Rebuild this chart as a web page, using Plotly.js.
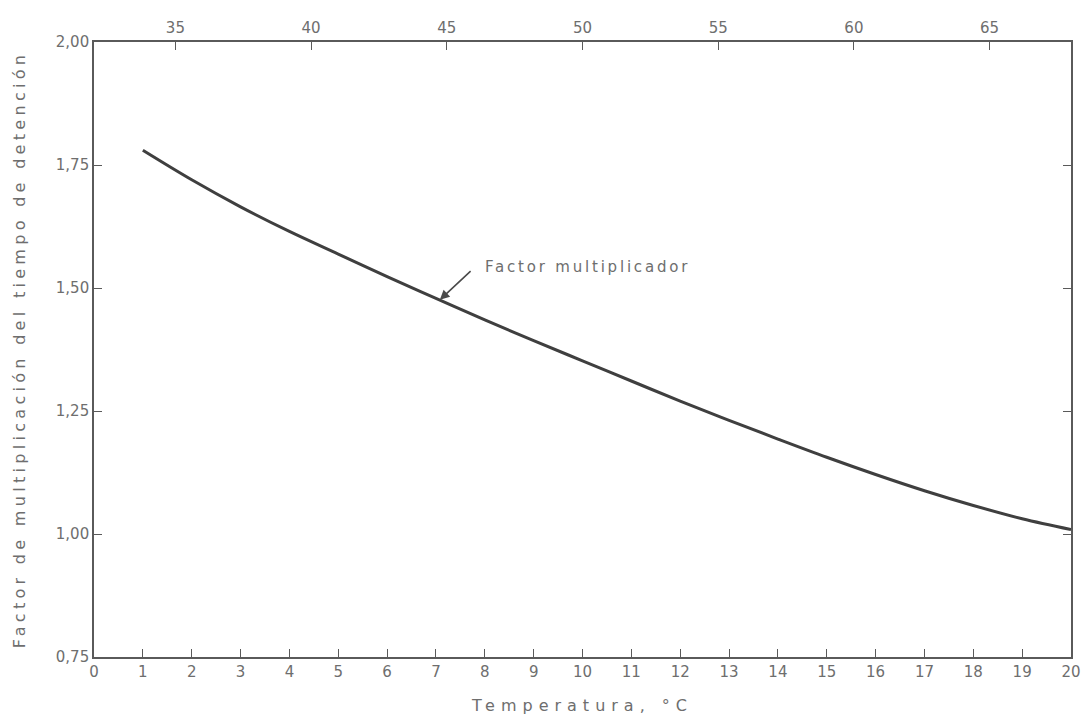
<!DOCTYPE html>
<html>
<head>
<meta charset="utf-8">
<script src="https://cdn.plot.ly/plotly-3.0.1.min.js"></script>
<style>
html,body{margin:0;padding:0;background:#fff;}
#chart{width:1086px;height:716px;}
.ytitle{letter-spacing:4.3px;}
.xtitle{letter-spacing:6px;}
.annotation-text{letter-spacing:2.8px;}
</style>
</head>
<body>
<div id="chart"></div>
<script>
// Temperature in °C (bottom axis)
const temperatureC = [1, 2, 3, 4, 5, 6, 7, 8, 9, 10, 11, 12, 13, 14, 15, 16, 17, 18, 19, 20];
// Detention time multiplication factor
const factor = [1.780, 1.720, 1.665, 1.615, 1.569, 1.523, 1.479, 1.435, 1.393, 1.352, 1.311, 1.270, 1.231, 1.193, 1.156, 1.121, 1.088, 1.058, 1.031, 1.009];
// Top axis tick values (°F)
const fahrenheitTicks = [35, 40, 45, 50, 55, 60, 65];
// Bottom axis ticks (°C)
const celsiusTicks = [0, 1, 2, 3, 4, 5, 6, 7, 8, 9, 10, 11, 12, 13, 14, 15, 16, 17, 18, 19, 20];
const yTicks = [0.75, 1.00, 1.25, 1.50, 1.75, 2.00];
const cRange = [0, 20];
const fRange = cRange.map(c => c * 9 / 5 + 32);

const textColor = '#6e6e6e';
const axisColor = '#5a5a5a';
const fontFam = 'DejaVu Sans, Liberation Sans, Arial, sans-serif';

const traces = [
  {
    x: temperatureC, y: factor, type: 'scatter', mode: 'lines',
    line: {color: '#3f3f3f', width: 3, shape: 'spline', smoothing: 1},
    hoverinfo: 'x+y', showlegend: false
  },
  {
    x: fRange, y: [null, null], xaxis: 'x2', type: 'scatter', mode: 'lines',
    hoverinfo: 'skip', showlegend: false
  }
];

const layout = {
  width: 1086, height: 716,
  margin: {l: 94, r: 15, t: 42, b: 59},
  paper_bgcolor: '#ffffff', plot_bgcolor: '#ffffff',
  separators: ',.',
  font: {family: fontFam, size: 15, color: textColor},
  showlegend: false,
  xaxis: {
    range: cRange, tickvals: celsiusTicks, ticks: 'inside', ticklen: 8, tickwidth: 1.2,
    tickcolor: axisColor, showline: true, linecolor: axisColor, linewidth: 1.6,
    mirror: true, showgrid: false, zeroline: false,
    tickfont: {family: fontFam, size: 15, color: textColor},
    title: {text: 'Temperatura, °C', font: {family: fontFam, size: 16, color: textColor}, standoff: 20}
  },
  xaxis2: {
    overlaying: 'x', side: 'top', range: fRange, tickvals: fahrenheitTicks,
    ticks: 'inside', ticklen: 8, tickwidth: 1.2, tickcolor: axisColor,
    ticklabelstandoff: 5,
    showline: false, showgrid: false, zeroline: false,
    tickfont: {family: fontFam, size: 15, color: textColor}
  },
  yaxis: {
    range: [0.75, 2.00], tickvals: yTicks, tickformat: '.2f', ticks: 'inside', ticklen: 8, tickwidth: 1.2,
    tickcolor: axisColor, showline: true, linecolor: axisColor, linewidth: 1.6,
    mirror: 'ticks', showgrid: false, zeroline: false,
    tickfont: {family: fontFam, size: 15, color: textColor},
    title: {text: 'Factor de multiplicación del tiempo de detención', font: {family: fontFam, size: 16, color: textColor}, standoff: 26}
  },
  annotations: [
    {
      x: 7.08, y: 1.476, xref: 'x', yref: 'y', text: '',
      showarrow: true, ax: 7.74, ay: 1.537, axref: 'x', ayref: 'y',
      arrowhead: 2, arrowsize: 1.2, arrowwidth: 1.6, arrowcolor: '#4a4a4a', standoff: 0
    },
    {
      x: 7.96, y: 1.543, xref: 'x', yref: 'y', text: 'Factor multiplicador',
      showarrow: false, xanchor: 'left', yanchor: 'middle',
      font: {family: fontFam, size: 15, color: textColor}
    }
  ]
};

Plotly.newPlot('chart', traces, layout, {displayModeBar: false, responsive: false});
</script>
</body>
</html>
